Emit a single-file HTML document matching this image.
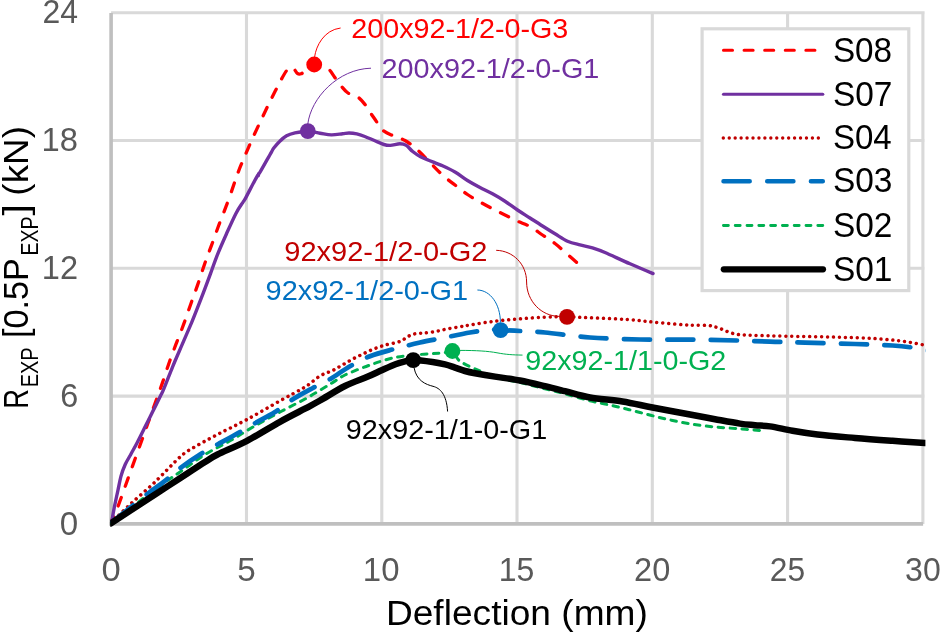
<!DOCTYPE html>
<html lang="en">
<head>
<meta charset="utf-8">
<title>Load-deflection chart</title>
<style>html,body{margin:0;padding:0;background:#fff}body{width:940px;height:633px;overflow:hidden}</style>
</head>
<body>
<svg width="940" height="633" viewBox="0 0 940 633" style="display:block;will-change:transform;font-family:'Liberation Sans', sans-serif">
<rect width="940" height="633" fill="#fff"/>
<path d="M246.5 11.2 V523.9 M381.8 11.2 V523.9 M517.0 11.2 V523.9 M652.3 11.2 V523.9 M787.6 11.2 V523.9 M922.9 11.2 V523.9 M111.1 396.1 H924.6 M111.1 268.2 H924.6 M111.1 140.5 H924.6 M111.1 12.7 H924.6" stroke="#D9D9D9" stroke-width="3.1" fill="none"/>
<path d="M111.1 13.0 V525.6" stroke="#BFBFBF" stroke-width="3.6" fill="none"/>
<path d="M109.3 523.9 H923.1" stroke="#BFBFBF" stroke-width="3.6" fill="none"/>
<defs><clipPath id="pc"><rect x="110.2" y="0" width="815.2" height="540"/></clipPath></defs>
<g clip-path="url(#pc)" fill="none" stroke-linejoin="round">
<path d="M110.6 523.4C111.2 522.1 112.7 518.4 114.0 515.5C115.3 512.6 116.4 510.6 118.2 505.9C120.0 501.1 122.7 493.6 125.0 487.0C127.3 480.4 129.3 474.9 132.3 466.6C135.3 458.3 140.1 445.2 143.0 437.0C145.9 428.8 147.6 424.1 150.0 417.5C152.4 410.9 155.2 402.9 157.3 397.1C159.4 391.3 160.6 388.2 162.5 382.6C164.4 377.0 166.6 370.0 168.8 363.7C171.0 357.4 173.3 351.3 175.8 344.7C178.3 338.1 181.2 331.0 183.7 324.2C186.2 317.4 188.5 310.4 190.9 303.7C193.3 297.0 195.7 290.5 197.9 284.1C200.1 277.7 202.0 271.5 204.2 265.2C206.4 258.9 208.8 252.7 211.2 246.2C213.6 239.7 216.0 232.8 218.4 226.3C220.8 219.8 223.9 212.1 225.7 207.4C227.5 202.7 228.1 200.9 229.0 198.3" stroke="#FF0000" stroke-width="3.3" stroke-linecap="round" stroke-dasharray="9 11.84" stroke-dashoffset="1.79"/>
<path d="M229.0 198.3C229.9 195.8 229.7 196.6 231.2 192.3C232.7 188.0 235.6 179.1 238.0 172.7C240.4 166.3 243.0 160.3 245.7 154.0C248.4 147.7 251.3 141.0 254.2 134.7C257.1 128.4 259.8 122.7 262.8 116.4C265.8 110.2 269.0 103.4 272.1 97.2C275.2 91.0 279.1 83.5 281.5 79.1C283.9 74.7 285.1 72.5 286.6 70.6C288.1 68.6 289.2 67.6 290.5 67.4C291.8 67.2 293.2 68.3 294.3 69.3C295.4 70.3 296.2 72.7 297.3 73.4C298.4 74.2 299.5 74.4 301.1 73.8C302.7 73.2 304.9 71.1 307.0 69.6C309.1 68.1 311.6 65.5 313.9 64.8C316.2 64.1 318.5 64.7 321.0 65.4C323.5 66.2 326.5 67.3 328.8 69.3C331.1 71.3 332.7 74.6 334.8 77.4C336.9 80.2 339.0 83.4 341.2 86.0C343.4 88.6 345.2 91.1 348.0 93.0C350.8 94.9 355.3 95.4 358.1 97.3C360.9 99.2 362.9 101.8 365.0 104.5C367.1 107.2 369.0 110.7 370.9 113.5C372.8 116.3 374.6 118.8 376.5 121.6C378.4 124.3 379.8 127.7 382.5 130.0C385.2 132.3 388.8 133.8 392.5 135.5C396.2 137.2 400.8 138.1 405.0 140.5C409.2 142.9 413.3 146.3 417.5 150.0C421.7 153.7 425.8 158.3 430.0 162.5C434.2 166.7 438.3 171.2 442.5 175.0C446.7 178.8 450.8 181.8 455.0 185.0C459.2 188.2 463.3 191.7 467.5 194.5C471.7 197.3 475.8 199.6 480.0 202.0C484.2 204.4 488.3 206.6 492.5 208.8C496.7 211.0 500.8 212.9 505.0 215.0C509.2 217.1 513.3 219.3 517.5 221.2C521.7 223.1 525.8 224.2 530.0 226.5C534.2 228.8 538.3 232.2 542.5 235.0C546.7 237.8 551.2 240.6 555.0 243.5C558.8 246.4 560.8 248.5 565.0 252.2C569.2 255.8 577.5 263.2 580.0 265.4" stroke="#FF0000" stroke-width="3.3" stroke-linecap="round" stroke-dasharray="9 11.56" stroke-dashoffset="-7.24"/>
<path d="M110.6 523.4C110.8 522.9 111.1 523.4 111.8 520.5C112.5 517.6 113.6 510.8 114.6 505.9C115.6 501.0 116.7 496.0 117.8 491.0C118.9 486.0 119.8 480.6 121.0 476.1C122.2 471.7 123.7 467.9 125.3 464.3C126.9 460.7 128.7 458.2 130.6 454.7C132.5 451.1 134.9 447.1 137.0 443.0C139.1 438.9 141.3 434.5 143.4 430.2C145.5 425.9 147.7 421.7 149.8 417.4C151.9 413.1 154.3 408.3 156.2 404.6C158.0 400.9 159.6 397.6 160.9 395.0C162.2 392.4 161.9 393.6 163.8 388.9C165.8 384.2 169.6 374.2 172.6 366.8C175.6 359.4 178.9 352.1 182.1 344.7C185.3 337.3 188.4 330.2 191.6 322.6C194.8 315.0 197.8 307.0 201.0 298.9C204.2 290.8 207.9 280.8 210.5 273.7C213.1 266.6 214.2 262.9 216.8 256.3C219.4 249.7 223.1 241.3 226.3 234.2C229.5 227.1 233.1 219.0 235.8 213.7C238.5 208.4 241.0 205.2 242.7 202.6C244.3 199.9 243.3 202.1 245.7 197.8C248.0 193.5 254.7 180.5 256.8 176.8C258.9 173.1 258.0 176.1 258.3 175.6C258.6 175.1 258.4 174.2 258.7 173.6C259.0 173.0 258.1 175.4 260.2 171.9C262.3 168.4 269.0 156.3 271.3 152.3C273.6 148.3 272.4 149.8 273.8 148.0C275.2 146.2 277.7 143.2 279.8 141.2C281.9 139.1 284.1 137.1 286.6 135.7C289.1 134.3 291.5 133.6 295.0 132.8C298.5 132.1 303.6 131.1 307.8 131.2C312.0 131.3 316.1 132.6 320.0 133.2C323.9 133.8 327.6 134.8 331.3 134.9C335.1 135.0 339.6 134.1 342.5 133.8C345.4 133.5 346.6 133.0 349.0 133.0C351.4 133.0 354.2 133.3 356.8 133.9C359.4 134.5 361.9 135.4 364.8 136.5C367.7 137.6 371.2 139.2 374.4 140.5C377.6 141.8 381.2 143.7 383.9 144.5C386.5 145.3 387.6 145.5 390.3 145.4C393.0 145.3 397.2 143.8 399.9 143.8C402.6 143.8 404.2 144.1 406.3 145.4C408.4 146.7 410.3 149.6 412.7 151.5C415.1 153.4 418.0 155.4 420.6 156.8C423.2 158.2 425.0 158.7 428.6 160.2C432.2 161.7 438.1 163.8 442.5 165.8C446.9 167.8 450.8 169.6 455.0 172.0C459.2 174.4 463.3 177.9 467.5 180.5C471.7 183.1 475.8 185.3 480.0 187.5C484.2 189.7 488.3 191.5 492.5 193.8C496.7 196.1 500.8 198.5 505.0 201.2C509.2 203.9 513.3 207.2 517.5 210.0C521.7 212.8 525.8 215.3 530.0 218.0C534.2 220.7 538.3 223.4 542.5 226.0C546.7 228.6 550.8 231.3 555.0 233.8C559.2 236.3 563.3 239.3 567.5 241.2C571.7 243.0 575.8 243.8 580.0 244.9C584.2 246.0 588.3 246.6 592.5 247.9C596.7 249.2 598.8 249.8 605.0 252.5C611.2 255.2 622.0 260.3 630.0 263.8C638.0 267.3 649.2 272.0 653.0 273.6" stroke="#7030A0" stroke-width="3.4" stroke-linecap="round"/>
<path d="M110.6 523.4C113.8 520.2 122.6 511.4 130.0 504.5C137.4 497.6 146.7 489.9 155.0 482.0C163.3 474.1 173.8 462.6 180.0 457.0C186.2 451.4 186.2 451.9 192.5 448.2C198.8 444.4 208.4 439.3 217.5 434.5C226.6 429.7 236.6 425.1 247.0 419.5C257.4 413.9 270.3 406.2 280.0 400.8C289.7 395.4 298.3 391.1 305.0 387.0C311.7 382.9 315.3 378.8 320.0 376.0C324.7 373.2 329.2 372.2 333.0 370.3C336.8 368.4 339.3 366.7 342.7 364.8C346.1 362.9 349.6 360.7 353.1 358.8C356.7 356.9 360.4 355.2 364.0 353.5C367.6 351.8 371.3 349.9 375.0 348.5C378.7 347.1 382.3 345.8 386.0 344.8C389.7 343.8 394.6 343.1 397.4 342.3C400.2 341.5 401.2 340.8 403.0 339.8C404.8 338.8 406.5 337.3 408.2 336.4C409.9 335.5 411.6 334.7 413.4 334.2C415.2 333.7 417.2 333.4 419.1 333.2C421.0 333.0 422.1 333.3 425.0 333.0C427.9 332.7 432.5 332.0 436.3 331.3C440.1 330.6 443.8 329.6 447.7 328.8C451.6 328.1 455.9 327.4 459.6 326.8C463.3 326.2 464.1 325.9 470.0 325.0C475.9 324.1 486.7 322.2 495.0 321.2C503.3 320.2 511.7 319.5 520.0 318.8C528.3 318.1 537.2 317.5 545.0 317.2C552.8 316.9 559.5 316.7 567.0 316.8C574.5 316.9 579.9 317.4 590.0 317.8C600.1 318.2 617.1 318.8 627.5 319.5C637.9 320.2 643.0 321.1 652.5 322.0C662.0 322.9 677.2 324.3 684.5 324.8C691.8 325.3 692.1 325.1 696.0 325.2C699.9 325.3 705.1 325.3 708.1 325.5C711.1 325.7 711.9 326.1 713.8 326.6C715.7 327.1 717.8 327.6 719.6 328.3C721.5 329.0 723.0 329.9 724.9 330.6C726.8 331.4 728.8 332.2 730.7 332.8C732.6 333.4 734.3 333.9 736.2 334.2C738.1 334.5 739.2 334.6 742.2 334.8C745.2 335.0 746.5 335.2 754.0 335.4C761.5 335.6 774.8 335.9 787.5 336.2C800.2 336.5 816.7 336.7 830.0 337.0C843.3 337.3 857.5 337.7 867.5 338.2C877.5 338.7 883.8 339.2 890.0 339.8C896.2 340.4 899.2 340.6 905.0 341.5C910.8 342.4 920.5 344.3 925.0 345.2C929.5 346.1 930.8 346.5 932.0 346.8" stroke="#C00000" stroke-width="3.5" stroke-linecap="round" stroke-dasharray="0.01 5.93"/>
<path d="M110.6 523.4C118.0 517.8 143.4 498.1 155.0 489.5C166.6 480.9 171.7 477.8 180.0 472.0C188.3 466.2 196.7 459.7 205.0 454.5C213.3 449.3 221.7 445.6 230.0 440.8C238.3 436.0 246.7 430.6 255.0 425.8C263.3 421.0 271.7 416.5 280.0 412.0C288.3 407.5 298.3 402.6 305.0 399.0C311.7 395.4 315.3 393.0 320.0 390.2C324.7 387.4 328.8 384.9 333.0 382.4C337.2 379.9 338.8 377.9 345.0 375.0C351.2 372.1 361.7 367.9 370.0 365.0C378.3 362.1 386.7 359.2 395.0 357.5C403.3 355.8 412.5 355.2 420.0 354.5C427.5 353.8 434.6 353.5 440.0 353.2C445.4 352.9 449.2 351.2 452.5 352.5C455.8 353.8 456.2 358.5 460.0 361.2C463.8 363.9 469.2 366.2 475.0 368.8C480.8 371.4 487.5 374.7 495.0 377.0C502.5 379.3 511.7 380.5 520.0 382.5C528.3 384.5 537.5 386.9 545.0 388.8C552.5 390.7 557.5 391.8 565.0 393.8C572.5 395.8 581.7 398.7 590.0 400.8C598.3 402.9 606.7 404.2 615.0 406.2C623.3 408.1 631.7 410.4 640.0 412.5C648.3 414.6 656.7 416.9 665.0 418.8C673.3 420.7 681.7 422.4 690.0 423.8C698.3 425.2 706.7 426.2 715.0 427.0C723.3 427.8 732.5 428.2 740.0 428.8C747.5 429.4 756.7 430.2 760.0 430.5" stroke="#00B050" stroke-width="3" stroke-linecap="round" stroke-dasharray="5.5 6.436" stroke-dashoffset="0.54"/>
<path d="M110.6 523.4C116.3 518.8 135.9 502.9 145.0 495.8C154.1 488.7 159.2 485.4 165.0 480.8C170.8 476.2 174.2 472.6 180.0 468.2C185.8 463.8 193.8 458.4 200.0 454.5C206.2 450.6 210.8 448.2 217.5 444.5C224.2 440.8 233.8 435.6 240.0 432.0C246.2 428.4 249.2 426.5 255.0 423.2C260.8 419.9 268.8 415.9 275.0 412.0C281.2 408.1 286.2 403.5 292.5 399.5C298.8 395.5 306.2 391.6 312.5 388.2C318.8 384.8 323.8 382.9 330.0 379.2C336.2 375.5 343.3 370.0 350.0 366.2C356.7 362.4 362.5 359.1 370.0 356.2C377.5 353.3 386.7 351.1 395.0 348.8C403.3 346.5 411.7 344.4 420.0 342.5C428.3 340.6 436.7 339.2 445.0 337.5C453.3 335.8 462.5 333.8 470.0 332.5C477.5 331.2 484.9 330.0 490.0 329.6C495.1 329.2 495.6 330.0 500.6 330.2C505.6 330.4 512.6 330.6 520.0 331.0C527.4 331.4 533.3 331.4 545.0 332.5C556.7 333.6 574.2 336.3 590.0 337.5C605.8 338.7 623.3 339.1 640.0 339.5C656.7 339.9 673.3 339.4 690.0 339.6C706.7 339.8 725.8 340.2 740.0 340.6C754.2 341.0 764.2 341.5 775.0 341.8C785.8 342.1 791.7 342.2 805.0 342.6C818.3 343.0 840.4 343.5 855.0 344.0C869.6 344.5 883.3 345.0 892.5 345.5C901.7 346.0 904.6 346.4 910.0 347.2C915.4 347.9 921.3 349.3 925.0 350.0C928.7 350.7 930.8 351.3 932.0 351.6" stroke="#0070C0" stroke-width="4.7" stroke-linecap="round" stroke-dasharray="26.1 17.31" stroke-dashoffset="-2.62"/>
<path d="M110.6 523.4C113.8 521.3 122.6 515.6 130.0 510.8C137.4 506.0 146.7 499.9 155.0 494.5C163.3 489.1 171.7 483.6 180.0 478.2C188.3 472.8 198.8 465.9 205.0 462.0C211.2 458.1 210.5 458.0 217.5 454.5C224.5 451.0 236.6 446.2 247.0 440.8C257.4 435.4 270.3 427.2 280.0 421.8C289.7 416.4 298.3 412.2 305.0 408.7C311.7 405.1 313.3 404.3 320.0 400.5C326.7 396.7 337.0 390.0 345.0 386.0C353.0 382.0 361.8 379.2 367.9 376.6C374.0 374.0 377.1 372.4 381.7 370.3C386.3 368.2 391.8 365.6 395.5 364.2C399.2 362.8 401.2 362.3 404.2 361.6C407.1 360.9 408.5 360.0 413.2 360.1C417.9 360.2 427.2 361.3 432.5 362.0C437.8 362.7 441.2 363.5 445.0 364.4C448.8 365.3 451.7 366.5 455.0 367.6C458.3 368.7 461.7 370.1 465.0 371.0C468.3 371.9 470.0 372.3 475.0 373.2C480.0 374.1 487.5 375.4 495.0 376.6C502.5 377.8 511.7 378.9 520.0 380.5C528.3 382.1 537.5 384.4 545.0 386.2C552.5 388.0 557.5 389.3 565.0 391.2C572.5 393.1 580.4 395.8 590.0 397.5C599.6 399.2 612.1 399.8 622.5 401.5C632.9 403.2 641.2 405.3 652.5 407.5C663.8 409.7 679.6 412.6 690.0 414.5C700.4 416.4 706.7 417.7 715.0 419.2C723.3 420.7 733.3 422.6 740.0 423.6C746.7 424.6 750.0 424.7 755.0 425.2C760.0 425.7 763.8 425.5 770.0 426.4C776.2 427.3 784.6 429.4 792.5 430.8C800.4 432.2 807.1 433.3 817.5 434.5C827.9 435.7 842.5 436.9 855.0 438.0C867.5 439.1 880.8 440.0 892.5 440.8C904.2 441.6 918.4 442.6 925.0 443.0C931.6 443.4 930.8 443.4 932.0 443.5" stroke="#000" stroke-width="6.5" stroke-linecap="round"/>
</g>
<circle cx="314.2" cy="64.5" r="7.9" fill="#FF0000"/>
<circle cx="307.8" cy="131.2" r="7.9" fill="#7030A0"/>
<circle cx="567.0" cy="316.8" r="7.9" fill="#C00000"/>
<circle cx="500.6" cy="330.2" r="7.9" fill="#0070C0"/>
<circle cx="452.4" cy="351.0" r="7.9" fill="#00B050"/>
<circle cx="413.2" cy="360.2" r="7.9" fill="#000"/>
<path d="M314.6 57 C316 46 324 30 340.6 28" stroke="#FF0000" stroke-width="1" fill="none"/>
<path d="M307.8 124 C311 98 338 69 371 68.2" stroke="#7030A0" stroke-width="1" fill="none"/>
<path d="M496.2 250.3 C513 250.8 526.6 264 526.6 282 C526.6 301 541.3 316.4 559.6 316.4" stroke="#C00000" stroke-width="1" fill="none"/>
<path d="M477.4 290 C490.2 290.2 500.4 304 500.4 322.5" stroke="#0070C0" stroke-width="1" fill="none"/>
<path d="M460 350.4 C476 350.4 488 351.1 497 352.8 S512 354.9 522.5 355.1" stroke="#00B050" stroke-width="1" fill="none"/>
<path d="M414 367.5 C416.5 381 426 384.5 433 386.3 S446.5 394 447.6 411.5" stroke="#000" stroke-width="1" fill="none"/>
<rect x="702.1" y="28.8" width="206.7" height="261.8" fill="#fff" stroke="#D9D9D9" stroke-width="3.2"/>
<g fill="none">
<path d="M723.5 50.2 H822.8" stroke="#FF0000" stroke-width="3.1" stroke-linecap="round" stroke-dasharray="9 11.6"/>
<path d="M723.5 94.2 H822.8" stroke="#7030A0" stroke-width="3.1" stroke-linecap="round"/>
<path d="M723.3 138 H819" stroke="#C00000" stroke-width="3.4" stroke-linecap="round" stroke-dasharray="0.01 5.93"/>
<path d="M723.5 181.3 H822.8" stroke="#0070C0" stroke-width="4.5" stroke-linecap="round" stroke-dasharray="26.2 17.5"/>
<path d="M723.4 225.5 H823" stroke="#00B050" stroke-width="2.8" stroke-linecap="round" stroke-dasharray="5 6.8"/>
<path d="M723.8 269.3 H823.0" stroke="#000" stroke-width="6.2" stroke-linecap="round"/>
</g>
<text x="42.40" y="23.3" font-size="33.0" fill="#595959" textLength="35.53" lengthAdjust="spacingAndGlyphs">24</text>
<text x="41.58" y="151.1" font-size="33.0" fill="#595959" textLength="36.40" lengthAdjust="spacingAndGlyphs">18</text>
<text x="41.80" y="278.9" font-size="33.0" fill="#595959" textLength="36.21" lengthAdjust="spacingAndGlyphs">12</text>
<text x="60.18" y="406.7" font-size="33.0" fill="#595959" textLength="18.02" lengthAdjust="spacingAndGlyphs">6</text>
<text x="59.67" y="534.5" font-size="33.0" fill="#595959" textLength="18.43" lengthAdjust="spacingAndGlyphs">0</text>
<text x="101.52" y="581.2" font-size="33.0" fill="#595959" textLength="19.24" lengthAdjust="spacingAndGlyphs">0</text>
<text x="237.35" y="581.2" font-size="33.0" fill="#595959" textLength="18.46" lengthAdjust="spacingAndGlyphs">5</text>
<text x="362.83" y="581.2" font-size="33.0" fill="#595959" textLength="36.63" lengthAdjust="spacingAndGlyphs">10</text>
<text x="498.63" y="581.2" font-size="33.0" fill="#595959" textLength="35.62" lengthAdjust="spacingAndGlyphs">15</text>
<text x="634.09" y="581.2" font-size="33.0" fill="#595959" textLength="36.21" lengthAdjust="spacingAndGlyphs">20</text>
<text x="769.81" y="581.2" font-size="33.0" fill="#595959" textLength="35.33" lengthAdjust="spacingAndGlyphs">25</text>
<text x="905.10" y="581.2" font-size="33.0" fill="#595959" textLength="35.64" lengthAdjust="spacingAndGlyphs">30</text>
<text x="385.93" y="625.4" font-size="34.8" fill="#000" textLength="261.95" lengthAdjust="spacingAndGlyphs">Deflection (mm)</text>
<text x="832.94" y="62.0" font-size="35.3" fill="#000" textLength="59.17" lengthAdjust="spacingAndGlyphs">S08</text>
<text x="832.93" y="105.7" font-size="35.3" fill="#000" textLength="59.52" lengthAdjust="spacingAndGlyphs">S07</text>
<text x="832.95" y="149.3" font-size="35.3" fill="#000" textLength="58.82" lengthAdjust="spacingAndGlyphs">S04</text>
<text x="832.93" y="192.4" font-size="35.3" fill="#000" textLength="59.52" lengthAdjust="spacingAndGlyphs">S03</text>
<text x="832.93" y="237.0" font-size="35.3" fill="#000" textLength="59.52" lengthAdjust="spacingAndGlyphs">S02</text>
<text x="832.93" y="281.0" font-size="35.3" fill="#000" textLength="59.52" lengthAdjust="spacingAndGlyphs">S01</text>
<text x="351.26" y="37.8" font-size="28.0" fill="#FF0000" textLength="217.09" lengthAdjust="spacingAndGlyphs">200x92-1/2-0-G3</text>
<text x="381.56" y="77.9" font-size="28.0" fill="#7030A0" textLength="217.79" lengthAdjust="spacingAndGlyphs">200x92-1/2-0-G1</text>
<text x="284.25" y="260.7" font-size="28.0" fill="#C00000" textLength="203.21" lengthAdjust="spacingAndGlyphs">92x92-1/2-0-G2</text>
<text x="265.55" y="299.9" font-size="28.0" fill="#0070C0" textLength="202.62" lengthAdjust="spacingAndGlyphs">92x92-1/2-0-G1</text>
<text x="525.26" y="369.9" font-size="28.0" fill="#00B050" textLength="201.08" lengthAdjust="spacingAndGlyphs">92x92-1/1-0-G2</text>
<text x="345.76" y="438.5" font-size="28.0" fill="#000" textLength="201.50" lengthAdjust="spacingAndGlyphs">92x92-1/1-0-G1</text>
<g transform="translate(28.3 407) rotate(-90)">
<text x="-1.80" y="0.0" font-size="35.6" fill="#000" textLength="19.83" lengthAdjust="spacingAndGlyphs">R</text>
<text x="19.70" y="9.9" font-size="24.4" fill="#000" textLength="40.02" lengthAdjust="spacingAndGlyphs">EXP</text>
<text x="69.01" y="0.0" font-size="35.6" fill="#000" textLength="79.88" lengthAdjust="spacingAndGlyphs">[0.5P</text>
<text x="151.44" y="9.9" font-size="24.4" fill="#000" textLength="39.06" lengthAdjust="spacingAndGlyphs">EXP</text>
<text x="191.59" y="0.0" font-size="35.6" fill="#000" textLength="11.40" lengthAdjust="spacingAndGlyphs">]</text>
<text x="211.39" y="0.0" font-size="35.6" fill="#000" textLength="69.56" lengthAdjust="spacingAndGlyphs">(kN)</text>
</g>
</svg>
</body>
</html>
